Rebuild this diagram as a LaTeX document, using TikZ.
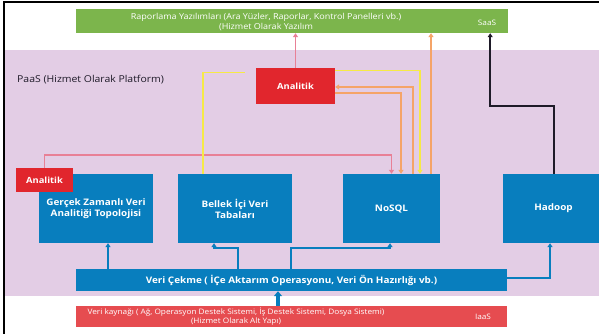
\documentclass[tikz,border=0pt]{standalone}
\usepackage{fontspec}
\setmainfont{Open Sans}[FakeStretch=1.1]
\usetikzlibrary{arrows.meta}

\definecolor{lila}{RGB}{227,205,229}
\definecolor{mavi}{RGB}{8,126,190}
\definecolor{yesil}{RGB}{124,181,76}
\definecolor{kirmizi}{RGB}{225,38,45}
\definecolor{acikkirmizi}{RGB}{230,76,80}
\definecolor{pembe}{RGB}{232,128,150}
\definecolor{sari}{RGB}{246,234,70}
\definecolor{turuncu}{RGB}{245,164,104}
\definecolor{koyu}{RGB}{30,26,40}

\tikzset{
  kutu/.style={fill=mavi,text=white,font=\fontsize{9}{11}\selectfont\bfseries,
    minimum width=114pt,minimum height=69pt,inner sep=0pt,align=center},
  katman/.style={minimum width=431pt,inner sep=0pt},
  analitik/.style={fill=kirmizi,text=white,font=\fontsize{8.5}{10}\selectfont\bfseries,inner sep=0pt},
  yazi/.style={text=white,inner sep=0pt,align=center},
  ok/.style={-{Triangle[width=5pt,length=4pt]}},
  hat/.style={line width=1.4pt}
}

\begin{document}
\begin{tikzpicture}[x=1pt,y=-1pt]
    \clip (0,0) rectangle (599,334);
    \fill[white] (0,0) rectangle (599,334);

    % PaaS alani
    \fill[lila] (4,50) rectangle (599,296);
    \draw[black,line width=1.2pt] (4,334) -- (4,2) -- (599,2);
    \node[anchor=west,font=\fontsize{9.5}{11}\selectfont,text=koyu,inner sep=0pt] (paas) at (17,80) {PaaS (Hizmet Olarak Platform)};

    % SaaS
    \node[katman,fill=yesil,minimum width=432pt,minimum height=24pt] (saas) at (292,21) {};
    \node[yazi,font=\fontsize{8.2}{10}\selectfont] (saasyazi) at (266,22) {Raporlama Yazılımları (Ara Yüzler,  Raporlar, Kontrol Panelleri vb.)\\(Hizmet Olarak Yazılım};
    \node[yazi,font=\fontsize{7.5}{9}\selectfont] (saasad) at (487,23) {SaaS};

    % IaaS
    \node[katman,fill=acikkirmizi,minimum height=21pt] (kaynak) at (291.5,316.5) {};
    \node[yazi,font=\fontsize{7.5}{8.5}\selectfont] (kaynakyazi) at (236,316.5) {Veri kaynağı ( Ağ, Operasyon Destek Sistemi, İş Destek Sistemi, Dosya Sistemi)\\(Hizmet Olarak Alt Yapı)};
    \node[yazi,font=\fontsize{7.5}{9}\selectfont] (iaas) at (483,316.5) {IaaS};

    % Veri cekme
    \node[katman,fill=mavi,minimum height=22pt,text=white,font=\fontsize{9}{11}\selectfont\bfseries] (cekme) at (291.5,280) {Veri Çekme ( İÇe Aktarım Operasyonu, Veri Ön Hazırlığı vb.)};

    % Kutular
    \node[kutu] (topoloji) at (96,208.5) {Gerçek Zamanlı Veri\\Analitiği Topolojisi};
    \node[kutu] (bellek) at (235,208.5) {Bellek İçi Veri\\Tabaları};
    \node[kutu,minimum width=97pt] (nosql) at (391.5,208.5) {NoSQL};
    \node[kutu,minimum width=101pt] (hadoop) at (553.5,208.5) {Hadoop};

    % Analitik
    \node[analitik,minimum width=79pt,minimum height=36pt] (analitik) at (295.5,86) {Analitik};
    \node[analitik,minimum width=57pt,minimum height=24pt] (analitik2) at (44.5,180) {Analitik};

    % Analitik baglantilari
    \draw[hat,pembe,ok] (analitik.north) -- (analitik.north |- saas.south);
    \draw[hat,pembe,ok] (analitik2.north) -- ++(0,-13) -| (nosql.north);
    \draw[hat,sari] ([xshift=-11pt,yshift=-5pt]analitik.north west) -| ([xshift=-32pt]bellek.north);
    \draw[hat,sari,ok] ([yshift=-3pt]analitik.north east) -| ([xshift=28.5pt]nosql.north);
    \draw[hat,turuncu,ok] ([xshift=21.5pt]nosql.north) |- ([yshift=-1pt]analitik.east);
    \draw[hat,turuncu,ok] ([yshift=-7pt]analitik.east) -| ([xshift=9.5pt]nosql.north);
    \draw[hat,turuncu,ok] ([xshift=39.5pt]nosql.north) -- ([xshift=39.5pt]nosql.north |- saas.south);
    \draw[line width=2pt,koyu,ok] (hadoop.north) -- ++(0,-68) -| ([xshift=-18pt]saas.south east);

    % Veri cekme oklari
    \draw[hat,mavi,ok] ([xshift=12pt]topoloji.south |- cekme.north) -- ([xshift=12pt]topoloji.south);
    \draw[hat,mavi,ok] ([xshift=3pt]bellek.south |- cekme.north) -- ++(0,-21) -| ([xshift=-21pt]bellek.south);
    \draw[hat,mavi,ok] ([xshift=56pt]bellek.south |- cekme.north) -- ++(0,-21) -| ([xshift=-1.5pt]nosql.south);
    \draw[hat,mavi,ok] ([yshift=2pt]cekme.east) -| ([xshift=-3.5pt]hadoop.south);
    \draw[line width=4pt,mavi,-{Triangle[width=8pt,length=5pt]}] ([xshift=-13.5pt]kaynak.north) -- ([xshift=-13.5pt]cekme.south);
\end{tikzpicture}
\end{document}
